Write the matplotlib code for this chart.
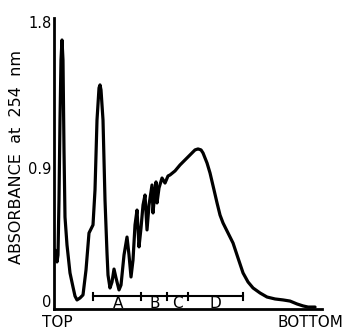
import matplotlib
matplotlib.use("Agg")
import matplotlib.pyplot as plt
from matplotlib.transforms import ScaledTranslation

# distance along gradient (arbitrary units, top -> bottom)
distance = [1, 3, 4, 5, 6, 7, 8, 9, 10, 11, 13, 16, 19, 21, 23, 26, 29, 32, 35, 39,
            41, 43, 45, 46, 47, 49, 51, 53, 54, 56, 58, 60, 62, 65, 67, 70, 73, 75,
            77, 79, 81, 83, 85, 87, 89, 91, 93, 95, 98, 99, 101, 102, 103, 105, 108,
            111, 114, 116, 121, 126, 131, 136, 141, 144, 147, 149, 153, 156, 160,
            163, 166, 169, 174, 179, 184, 189, 194, 199, 206, 213, 221, 229, 236,
            243, 249, 254, 261]
absorbance = [0.365, 0.291, 0.334, 0.674, 1.169, 1.540, 1.664, 1.540, 0.984, 0.569,
              0.396, 0.223, 0.136, 0.080, 0.056, 0.068, 0.087, 0.241, 0.470, 0.520,
              0.736, 1.169, 1.367, 1.386, 1.355, 1.169, 0.674, 0.346, 0.210, 0.130,
              0.167, 0.247, 0.192, 0.118, 0.148, 0.334, 0.445, 0.334, 0.198, 0.303,
              0.520, 0.612, 0.384, 0.501, 0.643, 0.705, 0.489, 0.643, 0.767, 0.594,
              0.736, 0.786, 0.656, 0.749, 0.810, 0.779, 0.823, 0.829, 0.854, 0.891,
              0.922, 0.953, 0.984, 0.990, 0.984, 0.965, 0.903, 0.841, 0.736, 0.656,
              0.581, 0.532, 0.470, 0.408, 0.315, 0.223, 0.167, 0.130, 0.099, 0.074,
              0.062, 0.056, 0.049, 0.031, 0.019, 0.012, 0.012]

# pooled fractions bar
fraction_edges = [39, 87, 113, 134, 189]
fraction_labels = ["A", "B", "C", "D"]
fraction_label_pos = [64, 101, 123, 161]
bar_level = 0.080

ytick_values = [0, 0.9, 1.8]
ytick_labels = ["0", "0.9", "1.8"]

fig = plt.figure(figsize=(3.45, 3.32), dpi=100)
ax = fig.add_axes([0.1565, 0.0693, 0.777, 0.8765])

ax.plot(distance, absorbance, color="black", lw=2.3,
        solid_joinstyle="round", solid_capstyle="round")

# fraction bar
ax.plot([fraction_edges[0], fraction_edges[-1]], [bar_level, bar_level],
        color="black", lw=1.5)
for e in fraction_edges:
    ax.plot([e, e], [bar_level - 0.022, bar_level + 0.022], color="black", lw=1.5)
for lab, xp in zip(fraction_labels, fraction_label_pos):
    ax.text(xp, 0.036, lab, ha="center", va="center", fontsize=11,
            color="black")

ax.set_xlim(0, 268)
ax.set_ylim(0, 1.8)
ax.spines["top"].set_visible(False)
ax.spines["right"].set_visible(False)
ax.spines["left"].set_linewidth(2)
ax.spines["bottom"].set_linewidth(2)
ax.set_xticks([])
ax.set_yticks(ytick_values)
ax.set_yticklabels(ytick_labels, fontsize=10.5)
ax.tick_params(axis="y", length=0, pad=2)

labels = ax.get_yticklabels()
offsets = [8, -5, -4]  # points-ish shift in pixels (up positive)
for lbl, off in zip(labels, offsets):
    lbl.set_transform(lbl.get_transform() +
                      ScaledTranslation(0, off / 100, fig.dpi_scale_trans))

fig.text(0.165, 0.030, "TOP", ha="center", va="center", fontsize=11)
fig.text(0.899, 0.030, "BOTTOM", ha="center", va="center", fontsize=11)
fig.text(0.049, 0.527, "ABSORBANCE  at  254  nm", rotation=90,
         ha="center", va="center", fontsize=11.5)

fig.savefig("out.png", dpi=100)
